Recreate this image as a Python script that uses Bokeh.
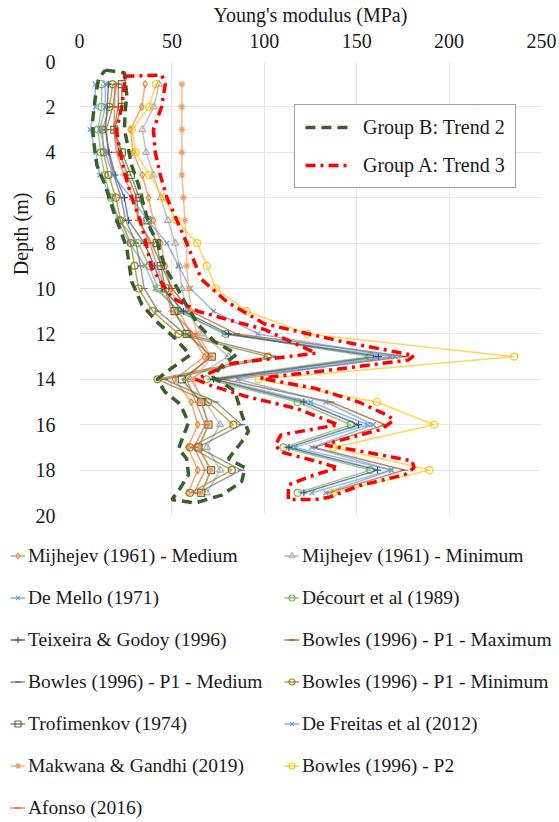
import math
from bokeh.plotting import figure
from bokeh.models import Range1d, Legend, LegendItem, Title, FixedTicker
from bokeh.embed import file_html
from bokeh.resources import INLINE

# ---------------- data ----------------
depth = [1, 2, 3, 4, 5, 6, 7, 8, 9, 10, 11, 12, 13, 14, 15, 16, 17, 18, 19]

mijhejev_medium = [35.5, 33.7, 27.5, 29.0, 34.0, 37.3, 40.0, 44.0, 46.5, 49.5, 54.0, 60.0, 67.6, 51.4, 60.4, 64.0, 58.6, 64.0, 58.6]
mijhejev_minimum = [43.0, 40.2, 34.0, 36.0, 40.0, 44.0, 47.8, 51.8, 54.0, 55.4, 58.0, 66.6, 80.6, 60.0, 68.0, 76.1, 68.9, 76.1, 68.9]
de_mello = [8.5, 8.5, 5.8, 8.8, 11.0, 17.5, 20.5, 27.0, 35.5, 41.0, 54.0, 78.0, 168.0, 74.0, 125.2, 156.0, 116.5, 168.6, 125.7]
decourt = [12.0, 12.0, 10.0, 11.5, 13.5, 17.0, 21.5, 31.6, 37.7, 42.4, 53.5, 79.2, 157.3, 68.9, 118.0, 146.8, 110.4, 157.3, 118.1]
teixeira_godoy = [15.7, 15.0, 14.0, 16.0, 19.3, 24.3, 26.5, 35.0, 40.5, 45.0, 56.3, 80.6, 161.8, 72.5, 121.4, 151.0, 113.3, 161.3, 121.4]
bowles_p1_maximum = [21.0, 21.0, 18.5, 21.5, 26.0, 31.0, 32.0, 39.0, 44.5, 50.0, 60.0, 85.0, 176.5, 78.0, 136.0, 165.4, 127.0, 175.7, 135.0]
bowles_p1_medium = [20.0, 18.0, 14.5, 15.5, 18.5, 22.5, 25.0, 30.5, 33.0, 35.0, 42.5, 57.0, 106.7, 46.0, 73.8, 87.8, 64.0, 87.5, 64.0]
bowles_p1_minimum = [18.0, 16.2, 12.4, 13.0, 15.7, 19.7, 22.3, 27.7, 29.8, 32.0, 39.6, 53.6, 101.9, 42.2, 69.6, 83.3, 59.9, 82.4, 59.9]
trofimenkov = [22.9, 22.9, 18.8, 22.9, 27.8, 32.3, 36.8, 41.8, 44.0, 46.4, 51.4, 58.0, 71.6, 55.4, 65.9, 69.8, 64.4, 71.2, 65.9]
de_freitas = [14.0, 14.0, 11.0, 14.0, 18.0, 28.0, 37.0, 47.3, 53.6, 60.0, 72.5, 96.5, 170.8, 85.7, 133.3, 159.0, 125.7, 169.0, 133.3]
makwana_gandhi = [55.4, 55.4, 55.4, 55.4, 55.4, 56.3, 57.0, 58.0, 58.0, 59.0, 60.5, 63.5, 71.6, 61.7, 66.0, 70.0, 64.4, 71.2, 66.0]
bowles_p2 = [41.3, 37.7, 28.3, 30.5, 37.7, 45.5, 52.5, 63.7, 68.9, 73.7, 90.5, 123.4, 235.2, 96.9, 160.9, 191.9, 137.4, 189.4, 137.4]
afonso = [19.0, 19.0, 18.5, 20.0, 24.0, 29.0, 32.0, 38.0, 42.0, 46.0, 50.0, 62.0, 70.0, 58.0, 63.0, 68.0, 62.0, 68.0, 62.0]

series_labels = [
    "Mijhejev (1961) - Medium", "Mijhejev (1961) - Minimum",
    "De Mello (1971)", "Décourt et al (1989)",
    "Teixeira & Godoy (1996)", "Bowles (1996) - P1 - Maximum",
    "Bowles (1996) - P1 - Medium", "Bowles (1996) - P1 - Minimum",
    "Trofimenkov (1974)", "De Freitas et al (2012)",
    "Makwana & Gandhi (2019)", "Bowles (1996) - P2",
    "Afonso (2016)",
]
series_values = [
    mijhejev_medium, mijhejev_minimum, de_mello, decourt, teixeira_godoy,
    bowles_p1_maximum, bowles_p1_medium, bowles_p1_minimum, trofimenkov,
    de_freitas, makwana_gandhi, bowles_p2, afonso,
]

# hand-drawn envelopes (trend groups), closed outlines (modulus, depth)
group_b_modulus = [14.0, 24.3, 25.6, 24.7, 24.3, 25.6, 28.3, 32.0, 34.6, 38.3, 41.8, 46.4, 53.0, 59.0, 64.4, 72.5, 85.0, 77.0, 72.0, 84.0, 88.0, 91.4, 87.8, 80.6, 89.6, 87.8, 77.0, 62.6, 50.0,
                   54.5, 59.0, 58.0, 53.6, 59.0, 54.5, 46.2, 42.0, 50.0, 59.9, 51.8, 41.0, 33.7, 28.3, 25.6, 23.8, 18.4, 13.9, 9.4, 7.6, 7.0, 8.5, 10.3, 14.0]
group_b_depth = [0.38, 0.5, 1.5, 2.2, 3.0, 3.5, 4.6, 5.45, 6.3, 7.35, 7.9, 9.1, 10.0, 10.9, 11.6, 12.3, 12.9, 13.4, 13.9, 14.5, 15.6, 16.3, 16.75, 17.5, 17.9, 18.5, 19.1, 19.45, 19.3,
                 18.8, 18.2, 17.5, 17.05, 15.9, 15.1, 14.55, 14.0, 13.5, 12.93, 12.2, 11.4, 10.7, 9.7, 8.24, 7.8, 6.6, 5.45, 4.57, 3.5, 2.66, 1.63, 0.75, 0.38]

group_a_modulus = [24.3, 44.5, 46.4, 44.4, 40.0, 41.0, 43.7, 47.3, 52.7, 58.0, 66.0, 80.0, 100.0, 140.0, 181.0, 178.0, 140.0, 98.0, 127.5, 151.0, 167.0, 170.0, 163.6, 138.0, 133.0, 154.6, 180.0, 181.0, 176.0, 151.0, 135.0, 127.5,
                   113.0, 113.0, 127.5, 140.0, 127.5, 109.0, 106.0, 109.0, 140.0, 118.0, 90.0, 72.0, 63.0, 82.0, 128.0, 100.0, 86.0, 64.0, 50.0, 39.0, 36.0, 32.8, 28.3, 24.7, 22.0, 20.0, 22.9, 24.3, 24.3]
group_a_depth = [0.65, 0.6, 1.0, 2.0, 3.0, 4.0, 5.0, 6.0, 7.0, 8.0, 9.6, 10.6, 11.55, 12.3, 12.95, 13.15, 13.55, 13.95, 14.4, 15.0, 15.6, 15.8, 16.2, 16.75, 16.9, 17.2, 17.6, 17.9, 18.2, 18.7, 19.2, 19.3,
                 19.3, 18.65, 18.2, 17.9, 17.6, 17.2, 16.9, 16.45, 16.0, 15.3, 14.75, 14.3, 14.0, 13.3, 12.85, 11.8, 11.5, 11.0, 10.4, 9.1, 8.0, 7.0, 6.0, 5.0, 4.0, 3.0, 2.0, 1.0, 0.65]

x_ticks = [0, 50, 100, 150, 200, 250]
y_ticks = [0, 2, 4, 6, 8, 10, 12, 14, 16, 18, 20]

# ---------------- styles ----------------
FONT = "Liberation Serif"
FS = "20px"
LFS = "19.5px"
TXT = "#1a1a1a"
styles = [
    ("#ED7D31", "diamond"), ("#A5A5A5", "triangle"),
    ("#5B9BD5", "x"), ("#70AD47", "circle"),
    ("#264478", "cross"), ("#9E480E", "dash"),
    ("#636363", "dash"), ("#997300", "circle"),
    ("#43682B", "square"), ("#698ED0", "x"),
    ("#F1975A", "asterisk"), ("#FFC000", "circle"),
    ("#E0602A", "dash"),
]

W = 556
p = figure(width=W, height=530, output_backend="svg", toolbar_location=None,
           x_range=Range1d(0, 250), y_range=Range1d(20, 0),
           x_axis_location="above",
           min_border_left=79, min_border_right=15, min_border_top=61, min_border_bottom=15)
p.outline_line_color = None
p.background_fill_color = "white"
p.border_fill_color = "white"

for ax in (p.xaxis[0], p.yaxis[0]):
    ax.axis_line_color = None
    ax.major_tick_line_color = None
    ax.minor_tick_line_color = None
    ax.major_label_text_font = FONT
    ax.major_label_text_font_size = FS
    ax.major_label_text_color = TXT
p.xaxis[0].ticker = FixedTicker(ticks=x_ticks)
p.yaxis[0].ticker = FixedTicker(ticks=y_ticks)
p.xaxis[0].major_label_standoff = 8
p.yaxis[0].major_label_standoff = 18
p.xaxis[0].axis_label = "Young's modulus (MPa)"
p.xaxis[0].axis_label_text_font = FONT
p.xaxis[0].axis_label_text_font_size = FS
p.xaxis[0].axis_label_text_font_style = "normal"
p.xaxis[0].axis_label_text_color = TXT
p.xaxis[0].axis_label_standoff = 5

p.xgrid.grid_line_color = "#E6E6E6"
p.ygrid.grid_line_color = "#E6E6E6"

# y-axis title, placed like the reference (upper part of the axis)
p.add_layout(Title(text="Depth (m)", align="right", offset=131, standoff=0,
                   vertical_align="middle", text_font=FONT,
                   text_font_size=FS, text_font_style="normal", text_color=TXT), "left")

for vals, (col, mk) in zip(series_values, styles):
    p.line(vals, depth, line_color=col, line_width=1.5, line_alpha=0.65)
    p.scatter(vals, depth, marker=mk, size=7, line_color=col, line_width=1.2,
              fill_color="white", fill_alpha=0.0, line_alpha=0.9)

gb = p.line(group_b_modulus, group_b_depth, line_color="#3B5E2B", line_width=3.5, line_dash="10 6")
ga = p.line(group_a_modulus, group_a_depth, line_color="#FF0000", line_width=3.5, line_dash="10 5 3 5")

glegend = Legend(items=[LegendItem(label="Group B: Trend 2", renderers=[gb]),
                        LegendItem(label="Group A: Trend 3", renderers=[ga])],
                 location=(215, 327), orientation="vertical", margin=0, padding=10,
                 spacing=14, glyph_width=45, glyph_height=24, label_height=24, label_standoff=13,
                 label_text_font=FONT, label_text_font_size=FS, label_text_color=TXT,
                 border_line_color="#404040", border_line_width=1,
                 background_fill_color="white", background_fill_alpha=1.0)
p.add_layout(glegend)

# ---------------- series legend (separate root below the chart) ----------------
QH = 289
q = figure(width=W, height=QH, output_backend="svg", toolbar_location=None,
           x_range=Range1d(1000, 1001), y_range=Range1d(1000, 1001),
           x_axis_type=None, y_axis_type=None, min_border=0)
q.outline_line_color = None
q.background_fill_color = "white"
q.border_fill_color = "white"

items = []
for name, vals, (col, mk) in zip(series_labels, series_values, styles):
    lr = q.line(vals, depth, line_color=col, line_width=1.6, line_alpha=0.7)
    sr = q.scatter(vals, depth, marker=mk, size=6, line_color=col, line_width=1.2,
                   fill_color="white", fill_alpha=0.0, line_alpha=0.9)
    items.append(LegendItem(label=name, renderers=[lr, sr]))

common = dict(orientation="vertical", margin=0, padding=0, spacing=19,
              glyph_width=15, glyph_height=23, label_height=23, label_standoff=3,
              label_text_font=FONT, label_text_font_size=LFS, label_text_color=TXT,
              border_line_color=None, background_fill_alpha=0.0)
leg_l = Legend(items=items[0::2], location=(10, 0), **common)
leg_r = Legend(items=items[1::2], location=(284, 42), **common)
q.add_layout(leg_l)
q.add_layout(leg_r)

open("out.html", "w").write(file_html([p, q], INLINE))
